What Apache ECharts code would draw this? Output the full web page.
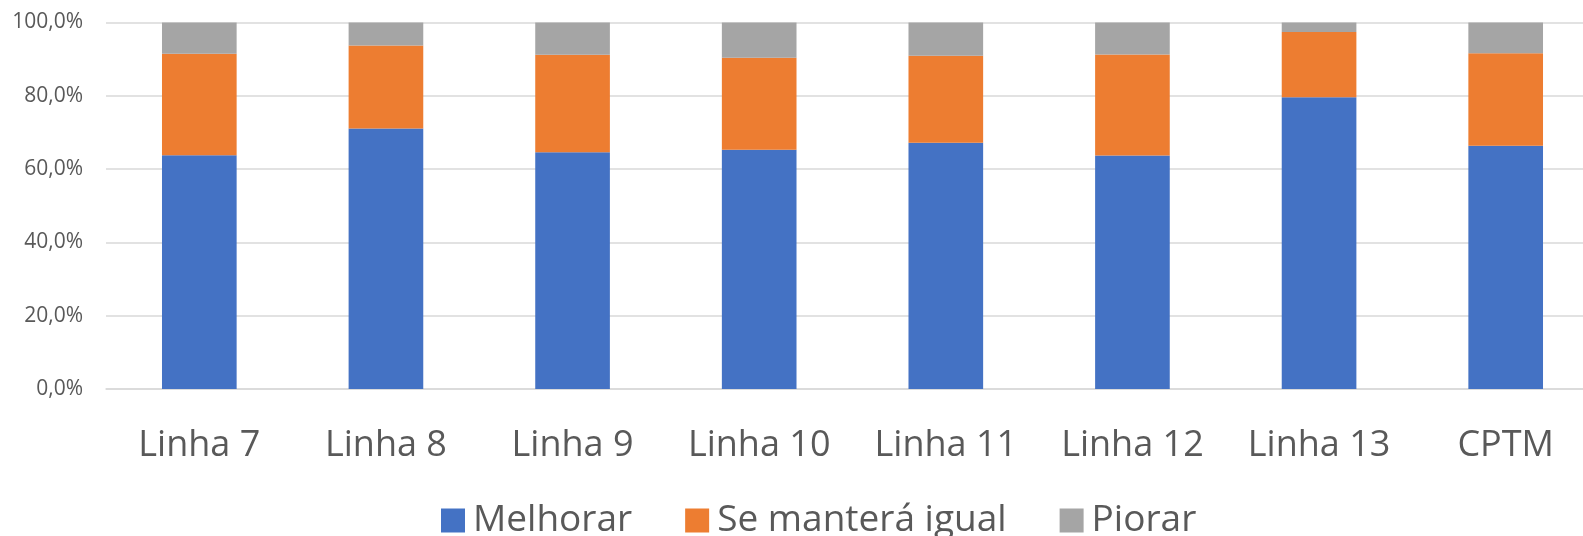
<!DOCTYPE html>
<html>
<head>
<meta charset="utf-8">
<script src="https://cdn.jsdelivr.net/npm/echarts@6/dist/echarts.min.js"></script>
<style>
  html, body { margin: 0; padding: 0; background: #ffffff; overflow: hidden; }
  #chart { width: 1600px; height: 536px; }
</style>
</head>
<body>
<div id="chart"></div>
<script>
// Expectativa por linha (percentual das respostas)
const categories = ['Linha 7', 'Linha 8', 'Linha 9', 'Linha 10', 'Linha 11', 'Linha 12', 'Linha 13', 'CPTM'];
const melhorar = [63.8, 71.1, 64.6, 65.3, 67.2, 63.7, 79.6, 66.4];
const manteraIgual = [27.7, 22.6, 26.6, 25.1, 23.7, 27.6, 17.8, 25.2];
const piorar = [8.5, 6.3, 8.8, 9.6, 9.1, 8.7, 2.6, 8.4];
const seriesNames = ['Melhorar', 'Se manterá igual', 'Piorar'];
const yTicks = [0, 20, 40, 60, 80, 100];

const colors = ['#4472C4', '#ED7D31', '#A5A5A5'];
const textColor = '#595959';
const fontFamily = '"Open Sans", "Noto Sans", sans-serif';

const chart = echarts.init(document.getElementById('chart'), null, { renderer: 'canvas' });

function barSeries(name, data, color) {
  return {
    name: name,
    type: 'bar',
    stack: 'total',
    barWidth: '40%',
    data: data,
    itemStyle: { color: color },
    emphasis: { disabled: true }
  };
}

chart.setOption({
  animation: false,
  color: colors,
  grid: { left: 106, right: 1, top: 22.5, bottom: 147, containLabel: false },
  legend: {
    data: seriesNames,
    bottom: -3,
    left: 441,
    padding: 0,
    itemWidth: 24,
    itemHeight: 24,
    itemGap: 53,
    icon: 'rect',
    textStyle: { color: textColor, fontSize: 37, fontFamily: fontFamily, padding: [0, 0, 0, 3] }
  },
  xAxis: {
    type: 'category',
    data: categories,
    axisLine: { show: true, lineStyle: { color: '#d9d9d9', width: 1.5 } },
    axisTick: { show: false },
    axisLabel: { color: textColor, fontSize: 36, fontFamily: fontFamily, margin: 39, interval: 0 }
  },
  yAxis: {
    type: 'value',
    min: yTicks[0],
    max: yTicks[yTicks.length - 1],
    interval: yTicks[1] - yTicks[0],
    axisLine: { show: false },
    axisTick: { show: false },
    splitLine: { lineStyle: { color: '#d9d9d9', width: 1.5 } },
    axisLabel: {
      color: textColor,
      fontSize: 21,
      fontFamily: fontFamily,
      margin: 23,
      formatter: v => v.toFixed(1).replace('.', ',') + '%'
    }
  },
  series: [
    barSeries(seriesNames[0], melhorar, colors[0]),
    barSeries(seriesNames[1], manteraIgual, colors[1]),
    barSeries(seriesNames[2], piorar, colors[2])
  ]
});
</script>
</body>
</html>
